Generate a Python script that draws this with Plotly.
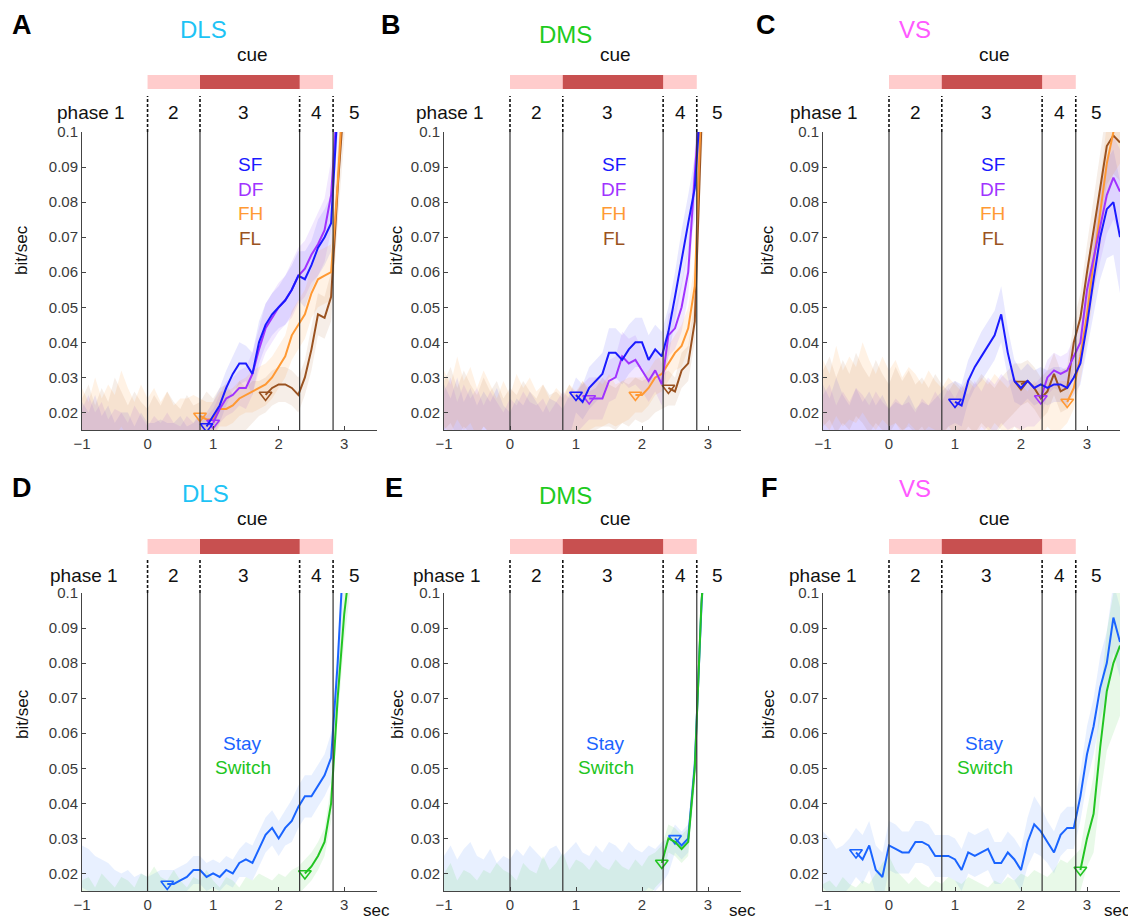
import plotly.graph_objects as go

# ---------------- data ----------------
T = [-1.0, -0.9, -0.8, -0.7, -0.6, -0.5, -0.4, -0.3, -0.2, -0.1,
     0.0, 0.1, 0.2, 0.3, 0.4, 0.5, 0.6, 0.7, 0.8, 0.9,
     1.0, 1.1, 1.2, 1.3, 1.4, 1.5, 1.6, 1.7, 1.8, 1.9,
     2.0, 2.1, 2.2, 2.3, 2.4, 2.5, 2.6, 2.7, 2.8, 2.9,
     3.0, 3.1, 3.2, 3.3, 3.4, 3.5]

EVENTS = [0.0, 0.8, 2.32, 2.83]
PHASE_LABELS = ["2", "3", "4", "5"]
PHASE_X = [0.4, 1.47, 2.58, 3.15]
REGIONS = ["DLS", "DMS", "VS"]
LETTERS = ["A", "B", "C", "D", "E", "F"]
TOP_NAMES = ["SF", "DF", "FH", "FL"]
BOT_NAMES = ["Stay", "Switch"]
X_TICKS = [-1, 0, 1, 2, 3]
Y_TICKS = [0.02, 0.03, 0.04, 0.05, 0.06, 0.07, 0.08, 0.09, 0.1]
Y_TICK_TEXT = ["0.02", "0.03", "0.04", "0.05", "0.06", "0.07", "0.08", "0.09", "0.1"]

# Panel A (DLS)
A_SF = [0.017, 0.015, 0.018, 0.014, 0.016, 0.013, 0.015, 0.014, 0.012, 0.015,
        0.013, 0.012, 0.014, 0.012, 0.013, 0.014, 0.012, 0.013, 0.015, 0.016,
        0.019, 0.022, 0.027, 0.031, 0.034, 0.034, 0.031, 0.040, 0.045, 0.048,
        0.050, 0.052, 0.055, 0.059, 0.058, 0.062, 0.067, 0.070, 0.074, 0.110,
        0.140, 0.150, 0.160, 0.170, 0.180, 0.190]
A_DF = [0.016, 0.019, 0.015, 0.017, 0.014, 0.016, 0.015, 0.013, 0.016, 0.014,
        0.012, 0.014, 0.013, 0.015, 0.013, 0.012, 0.014, 0.013, 0.014, 0.015,
        0.017, 0.021, 0.024, 0.025, 0.027, 0.027, 0.031, 0.038, 0.044, 0.047,
        0.050, 0.052, 0.055, 0.059, 0.061, 0.065, 0.068, 0.072, 0.082, 0.110,
        0.140, 0.150, 0.160, 0.170, 0.180, 0.190]
A_FH = [0.020, 0.017, 0.022, 0.018, 0.021, 0.019, 0.024, 0.020, 0.017, 0.021,
        0.018, 0.020, 0.017, 0.019, 0.016, 0.018, 0.017, 0.019, 0.019, 0.018,
        0.018, 0.021, 0.021, 0.022, 0.024, 0.025, 0.026, 0.027, 0.028, 0.030,
        0.033, 0.036, 0.042, 0.045, 0.048, 0.054, 0.058, 0.059, 0.060, 0.085,
        0.130, 0.150, 0.160, 0.170, 0.180, 0.190]
A_FL = [0.018, 0.021, 0.016, 0.020, 0.017, 0.022, 0.019, 0.016, 0.019, 0.017,
        0.015, 0.018, 0.016, 0.019, 0.017, 0.015, 0.018, 0.016, 0.017, 0.019,
        0.018, 0.020, 0.021, 0.019, 0.022, 0.021, 0.023, 0.024, 0.025, 0.027,
        0.028, 0.028, 0.027, 0.025, 0.030, 0.038, 0.048, 0.047, 0.053, 0.084,
        0.110, 0.140, 0.150, 0.160, 0.170, 0.180]
A_SF_SEM = [0.006, 0.005, 0.007, 0.005, 0.006, 0.004, 0.005, 0.006, 0.004, 0.005,
            0.004, 0.005, 0.004, 0.005, 0.004, 0.005, 0.004, 0.004, 0.005, 0.004,
            0.004, 0.005, 0.005, 0.005, 0.006, 0.005, 0.006, 0.006, 0.006, 0.006,
            0.006, 0.007, 0.007, 0.007, 0.008, 0.007, 0.008, 0.008, 0.008, 0.010,
            0.012, 0.012, 0.012, 0.012, 0.012, 0.012]
A_DF_SEM = [0.005, 0.006, 0.005, 0.006, 0.004, 0.005, 0.005, 0.004, 0.006, 0.005,
            0.004, 0.005, 0.004, 0.005, 0.004, 0.004, 0.005, 0.004, 0.005, 0.004,
            0.004, 0.004, 0.005, 0.005, 0.005, 0.006, 0.006, 0.006, 0.007, 0.007,
            0.007, 0.007, 0.008, 0.008, 0.008, 0.008, 0.009, 0.009, 0.010, 0.012,
            0.012, 0.012, 0.012, 0.012, 0.012, 0.012]
A_FH_SEM = [0.007, 0.006, 0.008, 0.006, 0.007, 0.006, 0.008, 0.007, 0.006, 0.007,
            0.006, 0.007, 0.006, 0.007, 0.006, 0.006, 0.007, 0.006, 0.005, 0.005,
            0.005, 0.005, 0.005, 0.005, 0.005, 0.005, 0.006, 0.006, 0.006, 0.006,
            0.006, 0.006, 0.007, 0.007, 0.007, 0.007, 0.008, 0.008, 0.008, 0.010,
            0.012, 0.012, 0.012, 0.012, 0.012, 0.012]
A_FL_SEM = [0.006, 0.007, 0.006, 0.007, 0.006, 0.008, 0.007, 0.006, 0.007, 0.006,
            0.006, 0.007, 0.006, 0.007, 0.006, 0.006, 0.007, 0.006, 0.006, 0.007,
            0.006, 0.007, 0.007, 0.006, 0.007, 0.006, 0.006, 0.005, 0.005, 0.005,
            0.005, 0.005, 0.005, 0.005, 0.005, 0.006, 0.006, 0.006, 0.007, 0.010,
            0.012, 0.012, 0.012, 0.012, 0.012, 0.012]
A_ONSET = [0.9, 1.0, 0.8, 1.8]

# Panel B (DMS)
B_SF = [0.021, 0.018, 0.022, 0.017, 0.020, 0.016, 0.019, 0.017, 0.020, 0.016,
        0.015, 0.018, 0.016, 0.019, 0.017, 0.015, 0.018, 0.017, 0.016, 0.019,
        0.025, 0.023, 0.027, 0.029, 0.031, 0.037, 0.037, 0.035, 0.038, 0.040,
        0.040, 0.035, 0.038, 0.036, 0.043, 0.053, 0.064, 0.074, 0.084, 0.120,
        0.140, 0.150, 0.160, 0.170, 0.180, 0.190]
B_DF = [0.019, 0.022, 0.017, 0.021, 0.018, 0.020, 0.016, 0.019, 0.017, 0.015,
        0.018, 0.016, 0.019, 0.017, 0.016, 0.018, 0.015, 0.017, 0.019, 0.018,
        0.020, 0.022, 0.024, 0.024, 0.024, 0.029, 0.030, 0.036, 0.034, 0.035,
        0.032, 0.029, 0.032, 0.028, 0.042, 0.044, 0.050, 0.060, 0.088, 0.120,
        0.140, 0.150, 0.160, 0.170, 0.180, 0.190]
B_FH = [0.024, 0.021, 0.027, 0.022, 0.025, 0.020, 0.024, 0.021, 0.018, 0.022,
        0.019, 0.023, 0.020, 0.022, 0.019, 0.021, 0.018, 0.020, 0.019, 0.021,
        0.020, 0.022, 0.021, 0.023, 0.022, 0.024, 0.022, 0.023, 0.024, 0.025,
        0.025, 0.027, 0.030, 0.031, 0.034, 0.037, 0.039, 0.044, 0.056, 0.110,
        0.140, 0.150, 0.160, 0.170, 0.180, 0.190]
B_FL = [0.022, 0.025, 0.020, 0.024, 0.021, 0.019, 0.023, 0.020, 0.022, 0.018,
        0.021, 0.019, 0.022, 0.020, 0.018, 0.021, 0.019, 0.020, 0.018, 0.021,
        0.019, 0.022, 0.020, 0.021, 0.023, 0.022, 0.021, 0.023, 0.022, 0.024,
        0.023, 0.024, 0.025, 0.026, 0.027, 0.026, 0.032, 0.034, 0.046, 0.102,
        0.130, 0.150, 0.160, 0.170, 0.180, 0.190]
B_SF_SEM = [0.007, 0.006, 0.008, 0.006, 0.007, 0.006, 0.007, 0.006, 0.007, 0.006,
            0.005, 0.006, 0.006, 0.007, 0.006, 0.005, 0.006, 0.006, 0.005, 0.006,
            0.005, 0.005, 0.006, 0.006, 0.006, 0.007, 0.007, 0.007, 0.007, 0.007,
            0.007, 0.007, 0.007, 0.007, 0.007, 0.007, 0.008, 0.008, 0.009, 0.012,
            0.012, 0.012, 0.012, 0.012, 0.012, 0.012]
B_DF_SEM = [0.007, 0.008, 0.006, 0.007, 0.006, 0.007, 0.006, 0.007, 0.006, 0.005,
            0.006, 0.006, 0.007, 0.006, 0.006, 0.006, 0.005, 0.006, 0.007, 0.006,
            0.006, 0.006, 0.006, 0.006, 0.006, 0.006, 0.006, 0.007, 0.007, 0.007,
            0.006, 0.006, 0.006, 0.006, 0.006, 0.006, 0.007, 0.007, 0.009, 0.012,
            0.012, 0.012, 0.012, 0.012, 0.012, 0.012]
B_FH_SEM = [0.008, 0.007, 0.009, 0.007, 0.008, 0.007, 0.008, 0.007, 0.006, 0.007,
            0.006, 0.008, 0.007, 0.008, 0.007, 0.007, 0.006, 0.007, 0.006, 0.007,
            0.006, 0.007, 0.006, 0.007, 0.006, 0.007, 0.006, 0.006, 0.006, 0.005,
            0.005, 0.005, 0.005, 0.005, 0.005, 0.005, 0.006, 0.006, 0.007, 0.010,
            0.012, 0.012, 0.012, 0.012, 0.012, 0.012]
B_FL_SEM = [0.007, 0.008, 0.007, 0.008, 0.007, 0.006, 0.007, 0.006, 0.007, 0.006,
            0.006, 0.006, 0.007, 0.006, 0.006, 0.007, 0.006, 0.006, 0.006, 0.007,
            0.006, 0.007, 0.006, 0.006, 0.007, 0.006, 0.006, 0.006, 0.006, 0.006,
            0.006, 0.006, 0.005, 0.005, 0.005, 0.004, 0.005, 0.005, 0.006, 0.010,
            0.012, 0.012, 0.012, 0.012, 0.012, 0.012]
B_ONSET = [1.0, 1.2, 1.9, 2.4]

# Panel C (VS)
C_SF = [0.020, 0.017, 0.022, 0.018, 0.016, 0.020, 0.017, 0.019, 0.016, 0.018,
        0.015, 0.017, 0.016, 0.018, 0.015, 0.017, 0.016, 0.018, 0.020, 0.022,
        0.023, 0.022, 0.029, 0.033, 0.036, 0.039, 0.042, 0.048, 0.037, 0.029,
        0.027, 0.029, 0.027, 0.028, 0.027, 0.028, 0.028, 0.027, 0.030, 0.034,
        0.045, 0.058, 0.070, 0.078, 0.080, 0.070]
C_DF = [0.018, 0.021, 0.016, 0.019, 0.017, 0.020, 0.018, 0.016, 0.019, 0.017,
        0.015, 0.018, 0.016, 0.017, 0.015, 0.018, 0.016, 0.019, 0.017, 0.020,
        0.018, 0.021, 0.019, 0.022, 0.020, 0.023, 0.021, 0.024, 0.022, 0.023,
        0.021, 0.022, 0.022, 0.024, 0.030, 0.032, 0.031, 0.032, 0.036, 0.040,
        0.055, 0.064, 0.073, 0.082, 0.087, 0.083]
C_FH = [0.026, 0.023, 0.029, 0.024, 0.027, 0.025, 0.030, 0.026, 0.023, 0.027,
        0.024, 0.026, 0.022, 0.025, 0.023, 0.021, 0.024, 0.022, 0.020, 0.023,
        0.021, 0.019, 0.022, 0.020, 0.023, 0.021, 0.024, 0.022, 0.020, 0.023,
        0.021, 0.019, 0.022, 0.020, 0.023, 0.021, 0.022, 0.023, 0.027, 0.036,
        0.048, 0.063, 0.077, 0.091, 0.100, 0.103]
C_FL = [0.024, 0.027, 0.022, 0.026, 0.023, 0.028, 0.025, 0.022, 0.026, 0.023,
        0.021, 0.025, 0.022, 0.024, 0.021, 0.023, 0.020, 0.023, 0.021, 0.019,
        0.022, 0.020, 0.023, 0.021, 0.024, 0.022, 0.020, 0.023, 0.025, 0.027,
        0.028, 0.029, 0.027, 0.024, 0.026, 0.031, 0.026, 0.027, 0.040, 0.047,
        0.060, 0.072, 0.084, 0.096, 0.099, 0.097]
C_SF_SEM = [0.008, 0.007, 0.008, 0.007, 0.006, 0.007, 0.006, 0.007, 0.006, 0.007,
            0.006, 0.006, 0.006, 0.007, 0.006, 0.006, 0.006, 0.006, 0.006, 0.006,
            0.006, 0.006, 0.006, 0.006, 0.007, 0.007, 0.007, 0.008, 0.007, 0.006,
            0.005, 0.005, 0.005, 0.005, 0.005, 0.005, 0.005, 0.005, 0.005, 0.006,
            0.008, 0.010, 0.012, 0.014, 0.015, 0.016]
C_DF_SEM = [0.007, 0.007, 0.006, 0.007, 0.006, 0.007, 0.007, 0.006, 0.007, 0.006,
            0.006, 0.006, 0.006, 0.006, 0.005, 0.006, 0.006, 0.007, 0.006, 0.007,
            0.006, 0.007, 0.006, 0.007, 0.006, 0.007, 0.007, 0.007, 0.007, 0.007,
            0.006, 0.006, 0.006, 0.006, 0.005, 0.005, 0.005, 0.005, 0.005, 0.006,
            0.007, 0.009, 0.010, 0.011, 0.012, 0.012]
C_FH_SEM = [0.009, 0.008, 0.010, 0.008, 0.009, 0.008, 0.010, 0.009, 0.008, 0.009,
            0.008, 0.009, 0.008, 0.008, 0.008, 0.007, 0.008, 0.007, 0.007, 0.007,
            0.007, 0.007, 0.007, 0.007, 0.007, 0.007, 0.007, 0.007, 0.007, 0.007,
            0.007, 0.007, 0.007, 0.007, 0.007, 0.007, 0.007, 0.006, 0.006, 0.007,
            0.008, 0.009, 0.010, 0.011, 0.012, 0.012]
C_FL_SEM = [0.008, 0.009, 0.008, 0.009, 0.008, 0.009, 0.008, 0.008, 0.009, 0.008,
            0.007, 0.008, 0.007, 0.008, 0.007, 0.007, 0.007, 0.008, 0.007, 0.007,
            0.007, 0.007, 0.007, 0.007, 0.007, 0.007, 0.007, 0.007, 0.007, 0.007,
            0.006, 0.006, 0.006, 0.006, 0.006, 0.006, 0.006, 0.006, 0.006, 0.007,
            0.008, 0.009, 0.010, 0.011, 0.011, 0.011]
C_ONSET = [1.0, 2.3, 2.7, 2.0]

# Panel D (DLS, stay/switch)
D_STAY = [0.022, 0.021, 0.020, 0.019, 0.018, 0.017, 0.016, 0.017, 0.015, 0.016,
          0.015, 0.016, 0.017, 0.017, 0.017, 0.018, 0.019, 0.021, 0.021, 0.019,
          0.020, 0.019, 0.021, 0.020, 0.023, 0.024, 0.023, 0.027, 0.031, 0.033,
          0.030, 0.033, 0.035, 0.039, 0.042, 0.042, 0.045, 0.048, 0.053, 0.080,
          0.115, 0.140, 0.150, 0.160, 0.170, 0.180]
D_SWITCH = [0.014, 0.015, 0.013, 0.016, 0.014, 0.013, 0.015, 0.014, 0.013, 0.016,
            0.015, 0.017, 0.015, 0.014, 0.016, 0.014, 0.013, 0.015, 0.014, 0.016,
            0.014, 0.013, 0.015, 0.014, 0.013, 0.015, 0.014, 0.016, 0.015, 0.014,
            0.016, 0.015, 0.017, 0.018, 0.020, 0.022, 0.025, 0.029, 0.040, 0.070,
            0.094, 0.110, 0.140, 0.150, 0.160, 0.170]
D_STAY_SEM = [0.006, 0.006, 0.005, 0.005, 0.005, 0.004, 0.004, 0.004, 0.004, 0.004,
              0.004, 0.004, 0.004, 0.004, 0.004, 0.004, 0.004, 0.004, 0.004, 0.004,
              0.004, 0.004, 0.004, 0.004, 0.004, 0.005, 0.005, 0.005, 0.005, 0.005,
              0.005, 0.005, 0.006, 0.006, 0.006, 0.006, 0.006, 0.006, 0.007, 0.009,
              0.012, 0.012, 0.012, 0.012, 0.012, 0.012]
D_SWITCH_SEM = [0.004, 0.004, 0.003, 0.004, 0.004, 0.003, 0.004, 0.004, 0.003, 0.004,
                0.004, 0.005, 0.004, 0.004, 0.005, 0.004, 0.003, 0.004, 0.004, 0.005,
                0.004, 0.003, 0.004, 0.004, 0.003, 0.004, 0.004, 0.004, 0.004, 0.004,
                0.004, 0.004, 0.004, 0.004, 0.004, 0.004, 0.004, 0.004, 0.005, 0.006,
                0.008, 0.008, 0.008, 0.008, 0.008, 0.008]
D_ONSET = [0.3, 2.4]

# Panel E (DMS, stay/switch)
E_STAY = [0.019, 0.021, 0.018, 0.020, 0.022, 0.019, 0.018, 0.020, 0.017, 0.019,
          0.018, 0.020, 0.019, 0.021, 0.020, 0.018, 0.020, 0.021, 0.019, 0.020,
          0.022, 0.020, 0.019, 0.021, 0.020, 0.022, 0.021, 0.020, 0.022, 0.021,
          0.020, 0.022, 0.021, 0.023, 0.025, 0.030, 0.028, 0.030, 0.051, 0.096,
          0.130, 0.140, 0.150, 0.160, 0.170, 0.180]
E_SWITCH = [0.015, 0.017, 0.014, 0.016, 0.015, 0.014, 0.016, 0.015, 0.017, 0.016,
            0.015, 0.014, 0.017, 0.016, 0.015, 0.018, 0.016, 0.017, 0.019, 0.016,
            0.018, 0.017, 0.016, 0.018, 0.017, 0.016, 0.018, 0.017, 0.016, 0.018,
            0.017, 0.019, 0.021, 0.023, 0.030, 0.029, 0.027, 0.029, 0.050, 0.097,
            0.130, 0.150, 0.160, 0.170, 0.180, 0.190]
E_STAY_SEM = [0.006, 0.007, 0.006, 0.007, 0.007, 0.006, 0.006, 0.007, 0.006, 0.006,
              0.006, 0.007, 0.006, 0.007, 0.006, 0.006, 0.007, 0.007, 0.006, 0.007,
              0.007, 0.006, 0.006, 0.007, 0.006, 0.007, 0.007, 0.006, 0.007, 0.006,
              0.006, 0.006, 0.006, 0.006, 0.005, 0.004, 0.004, 0.004, 0.005, 0.006,
              0.008, 0.008, 0.008, 0.008, 0.008, 0.008]
E_SWITCH_SEM = [0.005, 0.006, 0.004, 0.005, 0.005, 0.004, 0.005, 0.005, 0.006, 0.005,
                0.005, 0.004, 0.006, 0.005, 0.005, 0.007, 0.005, 0.006, 0.007, 0.005,
                0.006, 0.006, 0.005, 0.006, 0.005, 0.005, 0.006, 0.005, 0.005, 0.006,
                0.005, 0.006, 0.005, 0.005, 0.004, 0.004, 0.004, 0.004, 0.005, 0.006,
                0.008, 0.008, 0.008, 0.008, 0.008, 0.008]
E_ONSET = [2.5, 2.3]

# Panel F (VS, stay/switch)
F_STAY = [0.024, 0.022, 0.020, 0.021, 0.023, 0.026, 0.024, 0.028, 0.021, 0.019,
          0.028, 0.027, 0.026, 0.026, 0.029, 0.029, 0.028, 0.025, 0.025, 0.025,
          0.024, 0.021, 0.026, 0.025, 0.026, 0.027, 0.023, 0.023, 0.026, 0.024,
          0.021, 0.029, 0.034, 0.032, 0.029, 0.026, 0.031, 0.033, 0.033, 0.042,
          0.054, 0.062, 0.073, 0.080, 0.093, 0.086]
F_SWITCH = [0.013, 0.014, 0.012, 0.015, 0.013, 0.012, 0.014, 0.013, 0.015, 0.017,
            0.019, 0.016, 0.014, 0.013, 0.015, 0.013, 0.012, 0.014, 0.013, 0.015,
            0.014, 0.013, 0.015, 0.014, 0.013, 0.012, 0.014, 0.013, 0.015, 0.014,
            0.016, 0.015, 0.017, 0.016, 0.015, 0.017, 0.019, 0.018, 0.020, 0.021,
            0.030, 0.037, 0.056, 0.072, 0.080, 0.085]
F_STAY_SEM = [0.008, 0.008, 0.007, 0.007, 0.007, 0.007, 0.007, 0.007, 0.007, 0.007,
              0.007, 0.007, 0.006, 0.006, 0.006, 0.006, 0.006, 0.006, 0.006, 0.006,
              0.006, 0.006, 0.006, 0.006, 0.006, 0.006, 0.006, 0.006, 0.006, 0.006,
              0.006, 0.007, 0.008, 0.007, 0.006, 0.006, 0.006, 0.006, 0.006, 0.007,
              0.008, 0.008, 0.009, 0.009, 0.010, 0.010]
F_SWITCH_SEM = [0.004, 0.004, 0.004, 0.004, 0.004, 0.004, 0.004, 0.004, 0.005, 0.006,
                0.006, 0.005, 0.005, 0.004, 0.004, 0.004, 0.004, 0.004, 0.004, 0.004,
                0.004, 0.004, 0.004, 0.004, 0.004, 0.004, 0.004, 0.004, 0.004, 0.004,
                0.004, 0.004, 0.004, 0.004, 0.004, 0.004, 0.005, 0.005, 0.005, 0.006,
                0.008, 0.011, 0.014, 0.017, 0.020, 0.020]
F_ONSET = [-0.5, 2.9]

# ---------------- styling ----------------
W, H = 1136, 920
OFF = 8  # page body margin of the browser
FONT = "Liberation Sans, Arial, Helvetica, sans-serif"
TOP_COLORS = ["#1a1aff", "#a033ff", "#ff9933", "#9a5220"]
TOP_BANDS = ["rgba(90,90,255,0.14)", "rgba(160,90,255,0.14)",
             "rgba(255,160,70,0.14)", "rgba(170,100,50,0.11)"]
BOT_COLORS = ["#1a64ff", "#22c422"]
BOT_BANDS = ["rgba(90,150,255,0.14)", "rgba(90,210,90,0.14)"]
REGION_COLORS = ["#1ec3f5", "#1ecb1e", "#ff59ff"]

COLS = [(82, 377), (444, 741), (823, 1120)]
ROWS = [(132, 430), (593, 891)]
DASH_TOP = [96, 558]
CUE_Y = [(75, 89), (539, 554)]
PHASE_Y = [112, 575]
CUE_TXT_Y = [55, 519]
TITLE_POS = [[(203, 29), (565, 35), (915, 30)], [(205, 493), (565, 495), (915, 488)]]
LETTER_POS = [[(22, 25), (391, 25), (766, 25)], [(22, 488), (394, 488), (769, 488)]]
PHASE1_X = [[91, 450, 824], [84, 447, 823]]
BITSEC_X = [22, 397, 768]
BITSEC_Y = [250, 714]
SEC_X = [376, 742, 1117]
LEG_Y = [[165, 189, 213, 238], [743, 767]]


def pxx(x):
    return (x - OFF) / W


def pxy(y):
    return 1 - (y - OFF) / H


panels = [
    (0, 0, TOP_NAMES, [A_SF, A_DF, A_FH, A_FL], [A_SF_SEM, A_DF_SEM, A_FH_SEM, A_FL_SEM], A_ONSET),
    (0, 1, TOP_NAMES, [B_SF, B_DF, B_FH, B_FL], [B_SF_SEM, B_DF_SEM, B_FH_SEM, B_FL_SEM], B_ONSET),
    (0, 2, TOP_NAMES, [C_SF, C_DF, C_FH, C_FL], [C_SF_SEM, C_DF_SEM, C_FH_SEM, C_FL_SEM], C_ONSET),
    (1, 0, BOT_NAMES, [D_STAY, D_SWITCH], [D_STAY_SEM, D_SWITCH_SEM], D_ONSET),
    (1, 1, BOT_NAMES, [E_STAY, E_SWITCH], [E_STAY_SEM, E_SWITCH_SEM], E_ONSET),
    (1, 2, BOT_NAMES, [F_STAY, F_SWITCH], [F_STAY_SEM, F_SWITCH_SEM], F_ONSET),
]

fig = go.Figure()
layout = dict(template="none", width=W, height=H,
              margin=dict(l=0, r=0, t=0, b=0, pad=0, autoexpand=False),
              paper_bgcolor="white", plot_bgcolor="white", showlegend=False,
              font=dict(family=FONT, color="#222"))
shapes = []
annotations = []


def txt(text, x, y, size, color="#111", xref="paper", angle=0):
    annotations.append(dict(text=text, xref=xref, yref="paper",
                            x=(x if xref != "paper" else pxx(x)), y=pxy(y),
                            xanchor="center", yanchor="middle", showarrow=False,
                            textangle=angle, font=dict(size=size, color=color, family=FONT)))


for k, (row, col, names, means, sems, onsets) in enumerate(panels, start=1):
    xa, ya = "x%d" % k, "y%d" % k
    x0, x1 = COLS[col]
    ytop, ybot = ROWS[row]
    layout["xaxis%d" % k] = dict(
        domain=[pxx(x0), pxx(x1)], range=[-1, 3.5], anchor=ya, automargin=False,
        tickvals=X_TICKS, ticks="inside", ticklen=4, tickcolor="#444",
        showline=True, linecolor="#444", linewidth=1, showgrid=False, zeroline=False,
        tickfont=dict(size=15, color="#3a3a3a", family=FONT))
    layout["yaxis%d" % k] = dict(
        domain=[pxy(ybot), pxy(ytop)], range=[0.015, 0.1], anchor=xa, automargin=False,
        tickvals=Y_TICKS, ticktext=Y_TICK_TEXT, ticks="inside", ticklen=4,
        tickcolor="#444", showline=True, linecolor="#444", linewidth=1,
        showgrid=False, zeroline=False,
        tickfont=dict(size=15, color="#3a3a3a", family=FONT))

    colors = TOP_COLORS if row == 0 else BOT_COLORS
    bands = TOP_BANDS if row == 0 else BOT_BANDS

    # bands (mean +/- sem)
    for m, s, bc in zip(means, sems, bands):
        up = [a + b for a, b in zip(m, s)]
        lo = [a - b for a, b in zip(m, s)]
        fig.add_trace(go.Scatter(x=T + T[::-1], y=up + lo[::-1], xaxis=xa, yaxis=ya,
                                 fill="toself", fillcolor=bc, line=dict(width=0),
                                 mode="lines", hoverinfo="skip"))
    # mean lines from onset, with onset marker
    order = list(range(len(names)))[::-1] if row == 0 else list(range(len(names)))
    for j in order:
        m = means[j]
        idx = min(range(len(T)), key=lambda i: abs(T[i] - onsets[j]))
        fig.add_trace(go.Scatter(x=T[idx:], y=m[idx:], xaxis=xa, yaxis=ya, mode="lines",
                                 line=dict(color=colors[j], width=2), hoverinfo="skip"))
        fig.add_trace(go.Scatter(x=[T[idx]], y=[m[idx]], xaxis=xa, yaxis=ya, mode="markers",
                                 marker=dict(symbol="triangle-down-open", size=11,
                                             color=colors[j], line=dict(width=1.6, color=colors[j])),
                                 hoverinfo="skip"))

    # event lines
    for ev in EVENTS:
        shapes.append(dict(type="line", xref=xa, yref="paper", x0=ev, x1=ev,
                           y0=pxy(ybot), y1=pxy(ytop), line=dict(color="#333", width=1.2)))
        shapes.append(dict(type="line", xref=xa, yref="paper", x0=ev, x1=ev,
                           y0=pxy(ytop), y1=pxy(DASH_TOP[row]),
                           line=dict(color="#111", width=1.6, dash="3px,2px")))
    # cue bars
    cy0, cy1 = CUE_Y[row]
    shapes.append(dict(type="rect", xref=xa, yref="paper", x0=EVENTS[0], x1=EVENTS[3],
                       y0=pxy(cy1), y1=pxy(cy0), fillcolor="#ffcccc", line=dict(width=0)))
    shapes.append(dict(type="rect", xref=xa, yref="paper", x0=EVENTS[1], x1=EVENTS[2],
                       y0=pxy(cy1), y1=pxy(cy0), fillcolor="#c85050", line=dict(width=0)))

    # texts
    txt("cue", 1.6, CUE_TXT_Y[row], 19, xref=xa)
    txt("phase 1", PHASE1_X[row][col], PHASE_Y[row], 19)
    for lab, lx in zip(PHASE_LABELS, PHASE_X):
        txt(lab, lx, PHASE_Y[row], 19, xref=xa)
    tx, ty = TITLE_POS[row][col]
    txt(REGIONS[col], tx, ty, 24, color=REGION_COLORS[col])
    lx_, ly_ = LETTER_POS[row][col]
    txt("<b>%s</b>" % LETTERS[k - 1], lx_, ly_, 27, color="#000")
    txt("bit/sec", BITSEC_X[col], BITSEC_Y[row], 17, angle=-90)
    if row == 1:
        txt("sec", SEC_X[col], 910, 17)
    legx = 1.57 if row == 0 else 1.45
    for name, c, yy in zip(names, colors, LEG_Y[row]):
        txt(name, legx, yy, 19, color=c, xref=xa)

layout["shapes"] = shapes
layout["annotations"] = annotations
fig.update_layout(**layout)
fig.write_html("out.html")
